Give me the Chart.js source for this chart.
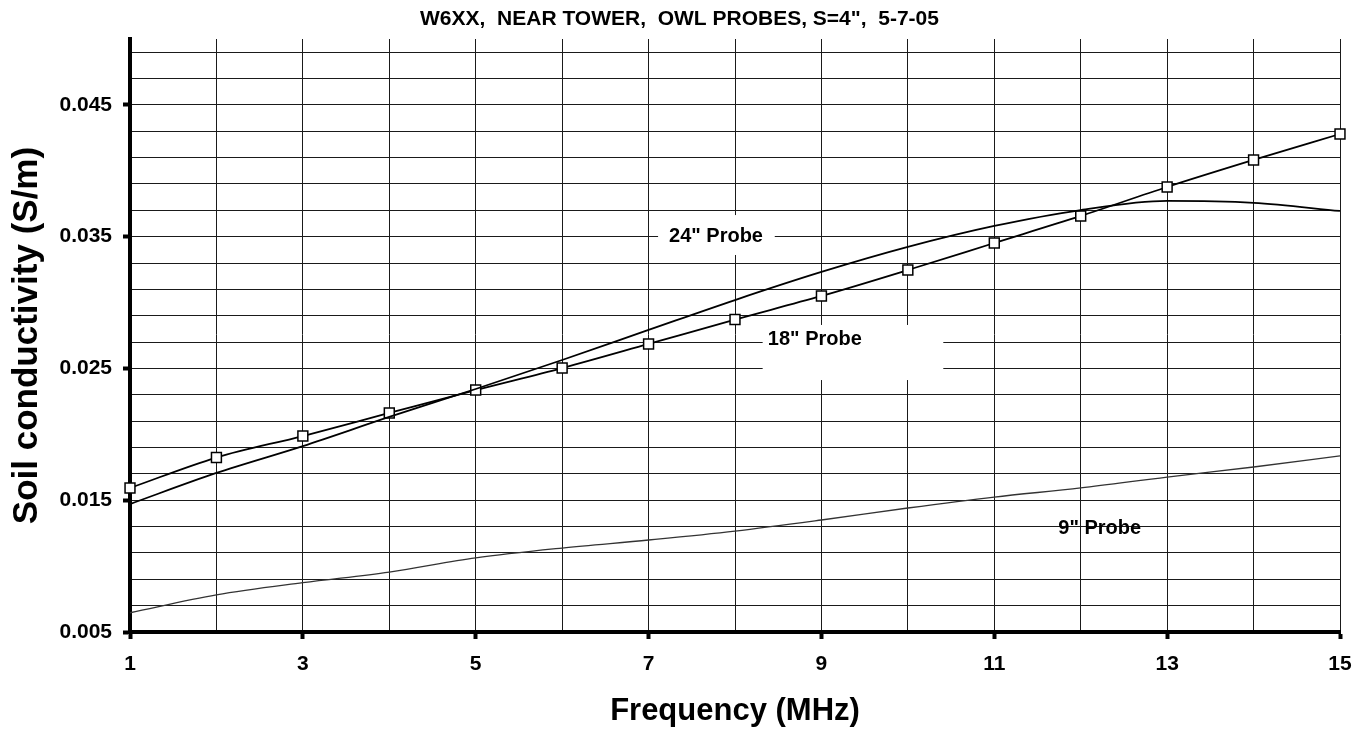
<!DOCTYPE html>
<html><head><meta charset="utf-8">
<script src="https://cdn.jsdelivr.net/npm/chart.js@4.4.1/dist/chart.umd.min.js"></script>
<style>html,body{margin:0;padding:0;background:#fff}#wrap{width:1359px;height:730px}</style>
</head><body><div id="wrap"><canvas id="c" width="1359" height="730"></canvas></div>
<script>
// ---- data ----
const frequencies = [1,2,3,4,5,6,7,8,9,10,11,12,13,14,15];
const probe18 = [0.01593,0.01824,0.01987,0.02162,0.02336,0.02503,0.02686,0.02871,0.03050,0.03247,0.03452,0.03657,0.03877,0.04082,0.04279];
const probe24 = [0.01471,0.01707,0.01911,0.02132,0.02344,0.02564,0.02792,0.03019,0.03232,0.03422,0.03581,0.03702,0.03771,0.03756,0.03695];
const probe9  = [0.00646,0.00781,0.00874,0.00955,0.01062,0.01137,0.01198,0.01266,0.01350,0.01441,0.01524,0.01593,0.01676,0.01752,0.01836];
const yGridValues = [0.005,0.007,0.009,0.011,0.013,0.015,0.017,0.019,0.021,0.023,0.025,0.027,0.029,0.031,0.033,0.035,0.037,0.039,0.041,0.043,0.045,0.047,0.049];
const yTickLabels = ['0.005','0.015','0.025','0.035','0.045'];
const xTickLabels = ['1','3','5','7','9','11','13','15'];
const chartTitle = 'W6XX,  NEAR TOWER,  OWL PROBES, S=4",  5-7-05';

const FONT = "'Liberation Sans', Arial, Helvetica, sans-serif";

function yLabelFor(v){ const s = v.toFixed(3); return yTickLabels.includes(s) ? s : ''; }
function xLabelFor(v){ const s = String(Math.round(v)); return xTickLabels.includes(s) ? s : ''; }

// text annotations (anchored in data units)
const annotations = [
  {text:'24" Probe', x:7.78, y:0.03505, align:'center', box:{x1:7.11, x2:8.46, y1:0.03664, y2:0.03361}},
  {text:'18" Probe', x:8.38, y:0.02723, align:'left',   box:{x1:8.32, x2:10.41, y1:0.02830, y2:0.02412}},
  {text:'9" Probe',  x:12.22, y:0.01282, align:'center', box:null}
];

const labelPlugin = {
  id:'probeLabels',
  beforeDatasetsDraw(chart){
    const {ctx, scales:{x, y}} = chart;
    ctx.save();
    ctx.fillStyle = '#fff';
    annotations.forEach(a => {
      if (!a.box) return;
      const px1 = x.getPixelForValue(a.box.x1), px2 = x.getPixelForValue(a.box.x2);
      const py1 = y.getPixelForValue(a.box.y1), py2 = y.getPixelForValue(a.box.y2);
      ctx.fillRect(px1, py1, px2 - px1, py2 - py1);
    });
    ctx.restore();
  },
  afterDatasetsDraw(chart){
    const {ctx, scales:{x, y}} = chart;
    ctx.save();
    ctx.fillStyle = '#000';
    ctx.font = 'bold 20px ' + FONT;
    ctx.textBaseline = 'middle';
    annotations.forEach(a => {
      ctx.textAlign = a.align;
      ctx.fillText(a.text, x.getPixelForValue(a.x), y.getPixelForValue(a.y));
    });
    ctx.restore();
  }
};

const pts = arr => frequencies.map((f, i) => ({x: f, y: arr[i]}));

new Chart(document.getElementById('c').getContext('2d'), {
  type: 'line',
  data: {
    datasets: [
      {label:'9" Probe', data: pts(probe9), borderColor:'#333', borderWidth:1.3, pointRadius:0, fill:false, cubicInterpolationMode:'monotone', clip:false},
      {label:'24" Probe', data: pts(probe24), borderColor:'#000', borderWidth:1.8, pointRadius:0, fill:false, cubicInterpolationMode:'monotone', clip:false},
      {label:'18" Probe', data: pts(probe18), borderColor:'#000', borderWidth:1.8, pointStyle:'rect', pointRadius:7, pointBorderWidth:1.5, pointBorderColor:'#000', pointBackgroundColor:'#fff', fill:false, cubicInterpolationMode:'monotone', clip:false}
    ]
  },
  options: {
    responsive:false, animation:false, devicePixelRatio:1,
    layout:{padding:{left:0, right:0, top:0, bottom:0}},
    plugins:{
      legend:{display:false}, tooltip:{enabled:false},
      title:{display:true, text:chartTitle, color:'#000', font:{family:FONT, size:21, weight:'bold'}, padding:{top:7, bottom:6.8}}
    },
    scales:{
      x:{
        type:'linear', min:1, max:15,
        afterBuildTicks(s){ s.ticks = frequencies.map(v => ({value:v})); },
        afterFit(s){ s.height = 98; s.paddingLeft = 0; s.paddingRight = 19; },
        ticks:{callback:(v)=>xLabelFor(v), color:'#000', font:{family:FONT, size:21, weight:'bold'}, padding:13, maxRotation:0, autoSkip:false},
        grid:{color:'#1a1a1a', lineWidth:1, drawTicks:true, tickLength:7, tickWidth:4,
              tickColor:(c)=> (c.tick && xLabelFor(c.tick.value)) ? '#000' : 'rgba(0,0,0,0)'},
        border:{display:true, color:'#000', width:4},
        title:{display:true, text:'Frequency (MHz)', color:'#000', font:{family:FONT, size:31, weight:'bold'}, padding:{top:0, bottom:0}}
      },
      y:{
        type:'linear', min:0.005, max:0.05,
        afterBuildTicks(s){ s.ticks = yGridValues.map(v => ({value:v})); },
        afterFit(s){ s.width = 130; },
        ticks:{callback:(v)=>yLabelFor(v), color:'#000', font:{family:FONT, size:21, weight:'bold'}, padding:11, autoSkip:false},
        grid:{color:'#1a1a1a', lineWidth:1, drawTicks:true, tickLength:7, tickWidth:4,
              tickColor:(c)=> (c.tick && yLabelFor(c.tick.value)) ? '#000' : 'rgba(0,0,0,0)'},
        border:{display:true, color:'#000', width:4},
        title:{display:true, text:'Soil conductivity (S/m)', color:'#000', font:{family:FONT, size:35, weight:'bold'}, padding:{top:6, bottom:0}}
      }
    }
  },
  plugins:[labelPlugin]
});
</script>
</body></html>
